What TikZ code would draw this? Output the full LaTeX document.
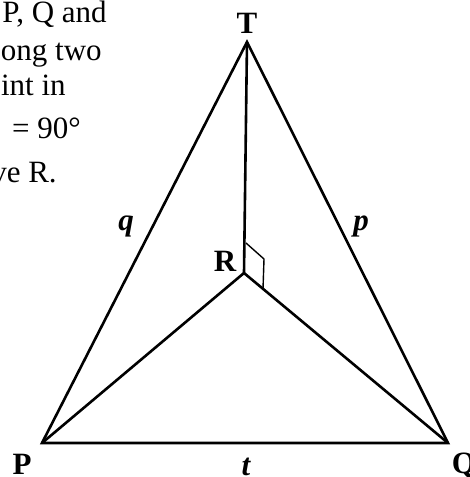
\documentclass[tikz,border=0pt]{standalone}
\usepackage{fontspec}
\setmainfont{Liberation Serif}
\begin{document}
\begin{tikzpicture}[x=1pt,y=-1pt,line width=2.6pt,
  vlab/.style={font=\fontsize{31}{36}\selectfont\bfseries,inner sep=0pt,anchor=base},
  elab/.style={font=\fontsize{31}{36}\selectfont\bfseries\itshape,inner sep=0pt,anchor=base},
  txt/.style={font=\fontsize{31}{36}\selectfont,inner sep=0pt,anchor=base east}]
\useasboundingbox (0,0) rectangle (469,477);
% text cut off at the left
\node[txt] (l1) at (108,22) {P, Q and};
\node[txt] (l2) at (103,60) {ong two};
\node[txt] (l3) at (67,95) {int in};
\node[txt] (l4) at (82,138) {= 90°};
\node[txt] (l5) at (58,182) {ve R.};
% points
\coordinate (T) at (247,42);
\coordinate (R) at (244,273);
\coordinate (P) at (42,443);
\coordinate (Q) at (448,443);
\draw (P) -- (T) -- (Q) -- cycle;
\draw (T) -- (R);
\draw (P) -- (R) -- (Q);
% right angle at R
\coordinate (m1) at (246,243);
\coordinate (m2) at (264,259);
\coordinate (m3) at (263,289);
\draw[line width=1.4pt] (m1) -- (m2) -- (m3);
% labels
\node[vlab] (lT) at (247,33) {T};
\node[vlab] (lR) at (225,271) {R};
\node[vlab] (lP) at (22,474) {P};
\node[vlab] (lQ) at (464,473) {Q};
\node[elab] (lt) at (246,475) {t};
\node[elab] (lq) at (126,230) {q};
\node[elab] (lp) at (361,230) {p};
\end{tikzpicture}
\end{document}
